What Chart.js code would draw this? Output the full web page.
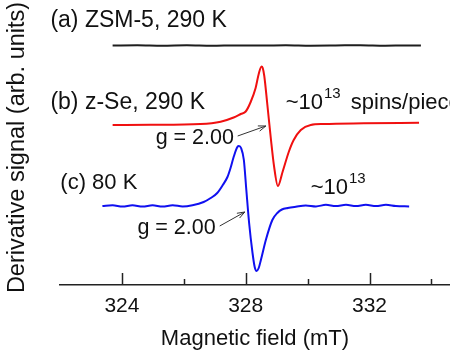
<!DOCTYPE html>
<html>
<head>
<meta charset="utf-8">
<script src="https://cdn.jsdelivr.net/npm/chart.js@4.4.1/dist/chart.umd.min.js"></script>
<style>
  html, body { margin: 0; padding: 0; background: #fff; }
  .chart-container { position: relative; width: 450px; height: 350px; }
</style>
</head>
<body>
<div class="chart-container"><canvas id="eprChart"></canvas></div>
<script>
// Espectros ESR, campo em mT, sinal em unidades arbitrárias
const zsmField  = [323.70, 324.5, 325.3, 326.1, 326.9, 327.7, 328.5, 329.3, 330.1, 330.9, 331.7, 332.5, 333.2, 333.66];
const zsmSignal = [239.5, 239.8, 239.3, 239.7, 239.2, 239.6, 239.4, 239.8, 239.3, 239.5, 239.8, 239.3, 239.6, 239.4];

const zseField  = [323.70, 324.93, 326.54, 327.19, 327.61, 327.84, 328.00, 328.16, 328.32, 328.42, 328.51, 328.55, 328.60, 328.70, 328.81, 328.91, 329.04, 329.19, 329.39, 329.55, 329.78, 330.10, 330.52, 331.82, 333.60];
const zseSignal = [160, 160.2, 161, 163.3, 167.5, 171, 173.5, 183, 197, 211, 218.5, 217, 209, 180, 147, 120, 99, 113, 133, 145, 155, 160, 161, 161.7, 162.3];

const lowTField  = [323.37, 323.70, 324.02, 324.34, 324.67, 324.99, 325.31, 325.64, 325.96, 326.28, 326.64, 326.87, 327.08, 327.26, 327.41, 327.51, 327.61, 327.73, 327.78, 327.85, 327.94, 328.02, 328.11, 328.22, 328.29, 328.35, 328.42, 328.49, 328.65, 328.86, 329.03, 329.17, 329.36, 329.62, 329.94, 330.27, 330.59, 330.91, 331.24, 331.56, 331.88, 332.21, 332.53, 332.85, 333.28];
const lowTSignal = [79, 79.8, 78.4, 79.8, 78.4, 79.8, 78.4, 79.8, 78.6, 79.8, 83, 87, 92, 100, 108, 117, 128, 138, 139, 137, 125, 95, 62, 32, 18, 14, 17, 25, 45, 65, 72.3, 75.5, 77, 78.3, 79.6, 78.6, 80.2, 79, 80.2, 79, 80.2, 79, 80.2, 79, 78.6];

const majorTicks = [324, 328, 332];
const minorTicks = [326, 330, 334];

const fontFamily = "'Liberation Sans', Arial, sans-serif";
const textColor = '#111';

// Textos e setas, em coordenadas de dados
const labelTexts = [
  { text: '(a) ZSM-5, 290 K', x: 321.69, y: 264, size: 23 },
  { text: '(b) z-Se, 290 K', x: 321.69, y: 182, size: 23 },
  { text: '(c) 80 K', x: 322.01, y: 102, size: 22 },
  { text: 'g = 2.00', x: 325.09, y: 147, size: 21.5 },
  { text: 'g = 2.00', x: 324.50, y: 57, size: 21.5 }
];
const spinTexts = [
  { base: '~10', sup: '13', tail: ' spins/piece', x: 329.29, y: 182 },
  { base: '~10', sup: '13', tail: '', x: 330.10, y: 97 }
];
const arrows = [
  { x1: 327.74, y1: 149, x2: 328.65, y2: 159 },
  { x1: 327.16, y1: 59, x2: 327.97, y2: 73 }
];

function toPoints(xs, ys) {
  return xs.map((x, i) => ({ x: x, y: ys[i] }));
}

const annotationPlugin = {
  id: 'eprAnnotations',
  afterDraw(chart) {
    const ctx = chart.ctx;
    const xs = chart.scales.x;
    const ys = chart.scales.y;
    const axisY = chart.chartArea.bottom;

    ctx.save();
    // marcas do eixo x, para dentro
    ctx.strokeStyle = '#222';
    ctx.lineWidth = 1.5;
    majorTicks.concat(minorTicks).forEach(v => {
      const px = Math.round(xs.getPixelForValue(v)) + 0.5;
      const len = majorTicks.includes(v) ? 12 : 6;
      ctx.beginPath();
      ctx.moveTo(px, axisY);
      ctx.lineTo(px, axisY - len);
      ctx.stroke();
    });

    ctx.fillStyle = textColor;
    ctx.textBaseline = 'middle';
    ctx.textAlign = 'left';
    labelTexts.forEach(t => {
      ctx.font = t.size + 'px ' + fontFamily;
      ctx.fillText(t.text, xs.getPixelForValue(t.x), ys.getPixelForValue(t.y));
    });

    spinTexts.forEach(t => {
      let px = xs.getPixelForValue(t.x);
      const py = ys.getPixelForValue(t.y);
      ctx.font = '22px ' + fontFamily;
      ctx.fillText(t.base, px, py);
      px += ctx.measureText(t.base).width + 1;
      ctx.font = '15px ' + fontFamily;
      ctx.fillText(t.sup, px, py - 9);
      px += ctx.measureText(t.sup).width + 4;
      ctx.font = '22px ' + fontFamily;
      ctx.fillText(t.tail, px, py);
    });

    // setas indicando g = 2.00
    ctx.strokeStyle = '#333';
    ctx.lineWidth = 1;
    arrows.forEach(a => {
      const x1 = xs.getPixelForValue(a.x1), y1 = ys.getPixelForValue(a.y1);
      const x2 = xs.getPixelForValue(a.x2), y2 = ys.getPixelForValue(a.y2);
      const ang = Math.atan2(y2 - y1, x2 - x1);
      ctx.beginPath();
      ctx.moveTo(x1, y1);
      ctx.lineTo(x2, y2);
      ctx.stroke();
      ctx.beginPath();
      ctx.moveTo(x2 - 8 * Math.cos(ang - 0.35), y2 - 8 * Math.sin(ang - 0.35));
      ctx.lineTo(x2, y2);
      ctx.lineTo(x2 - 8 * Math.cos(ang + 0.35), y2 - 8 * Math.sin(ang + 0.35));
      ctx.stroke();
    });
    ctx.restore();
  }
};

const lineStyle = {
  borderWidth: 2,
  pointRadius: 0,
  fill: false,
  cubicInterpolationMode: 'monotone'
};

const ctx = document.getElementById('eprChart').getContext('2d');
const eprChart = new Chart(ctx, {
  type: 'line',
  data: {
    datasets: [
      Object.assign({ data: toPoints(zsmField, zsmSignal), borderColor: '#1e1e1e' }, lineStyle),
      Object.assign({ data: toPoints(zseField, zseSignal), borderColor: '#f01010' }, lineStyle),
      Object.assign({ data: toPoints(lowTField, lowTSignal), borderColor: '#1010f0' }, lineStyle)
    ]
  },
  options: {
    responsive: true,
    maintainAspectRatio: false,
    animation: false,
    layout: {
      padding: { left: 0, right: 0, top: 10, bottom: 0 }
    },
    plugins: {
      legend: { display: false },
      tooltip: { enabled: false }
    },
    scales: {
      x: {
        type: 'linear',
        min: 322,
        max: 334.6,
        afterFit: scale => { scale.height = 65; },
        afterBuildTicks: scale => { scale.ticks = majorTicks.map(v => ({ value: v })); },
        grid: { display: false, drawTicks: false },
        border: { display: true, color: '#222', width: 1.5 },
        ticks: {
          color: textColor,
          padding: 9,
          autoSkip: false,
          maxRotation: 0,
          font: { family: fontFamily, size: 21 }
        },
        title: {
          display: true,
          text: 'Magnetic field (mT)',
          color: textColor,
          padding: { top: 0, bottom: 0 },
          font: { family: fontFamily, size: 22, lineHeight: 1 }
        }
      },
      y: {
        type: 'linear',
        min: 0,
        max: 275,
        afterFit: scale => { scale.width = 60; },
        grid: { display: false, drawTicks: false },
        border: { display: false },
        ticks: { display: false },
        title: {
          display: true,
          text: 'Derivative signal (arb. units)',
          color: textColor,
          padding: { top: 6, bottom: 0 },
          font: { family: fontFamily, size: 23.5, lineHeight: 1 }
        }
      }
    }
  },
  plugins: [annotationPlugin]
});
</script>
</body>
</html>
